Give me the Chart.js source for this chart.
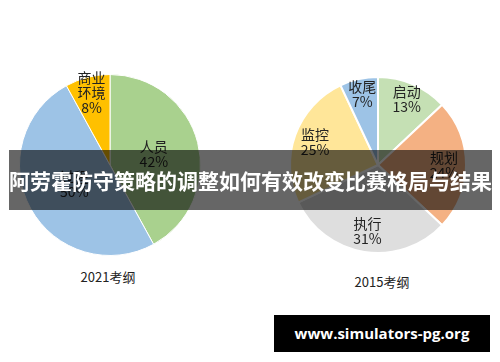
<!DOCTYPE html>
<html>
<head>
<meta charset="utf-8">
<script src="https://cdn.jsdelivr.net/npm/chart.js@4.4.1/dist/chart.umd.min.js"></script>
<style>
  body { margin: 0; width: 500px; height: 362px; background: #fff; position: relative; overflow: hidden; font-family: "Noto Sans CJK SC", sans-serif; }
  .box { position: absolute; }
  .cap { position: absolute; font-size: 13px; line-height: 18px; color: #222; text-align: center; width: 120px; }
  #banner { position: absolute; left: 9px; top: 150px; width: 483px; height: 60px; background: rgba(0,0,0,0.6);
    color: #fff; font-weight: bold; font-size: 21px; line-height: 60px; text-align: center; white-space: nowrap; }
  #mark { position: absolute; left: 274px; top: 315px; width: 216px; height: 37px; background: #000;
    color: #fff; font-family: "Open Sans", "DejaVu Sans", sans-serif; font-weight: bold; font-size: 15px; line-height: 37px; text-align: center; }
</style>
</head>
<body>
<div class="box" style="left:9px;top:64px;width:202px;height:202px"><canvas id="pie2021"></canvas></div>
<div class="box" style="left:279px;top:66px;width:198px;height:198px"><canvas id="pie2015"></canvas></div>
<div class="cap" style="left:48px;top:268px">2021考纲</div>
<div class="cap" style="left:322px;top:273px">2015考纲</div>
<div id="banner">阿劳霍防守策略的调整如何有效改变比赛格局与结果</div>
<div id="mark">www.simulators-pg.org</div>
<script>
// 2021考纲
const labels2021 = [['人员'], ['过程'], ['商业', '环境']];
const values2021 = [42, 50, 8];
const colors2021 = ['#a9d18e', '#9dc3e6', '#ffc000'];

// 2015考纲
const labels2015 = [['启动'], ['规划'], ['执行'], ['监控'], ['收尾']];
const values2015 = [13, 24, 31, 25, 7];
const colors2015 = ['#c5e0b4', '#f4b183', '#dedede', '#ffe699', '#9dc3e6'];

// 标签放在扇形里，按半径比例
const sliceLabels = {
  id: 'sliceLabels',
  afterDatasetsDraw(chart, args, opts) {
    const ctx = chart.ctx;
    const meta = chart.getDatasetMeta(0);
    const vals = chart.data.datasets[0].data;
    const names = chart.data.labels;
    ctx.save();
    ctx.fillStyle = '#222';
    ctx.font = '14px "Noto Sans CJK SC", sans-serif';
    ctx.textAlign = 'center';
    ctx.textBaseline = 'middle';
    meta.data.forEach((arc, i) => {
      const p = arc.getProps(['x', 'y', 'startAngle', 'endAngle', 'outerRadius'], true);
      const mid = (p.startAngle + p.endAngle) / 2;
      const r = p.outerRadius * opts.radius[i];
      const cx = p.x + Math.cos(mid) * r;
      const cy = p.y + Math.sin(mid) * r;
      const lines = names[i].concat([vals[i] + '%']);
      const lh = 15;
      lines.forEach((t, k) => {
        ctx.fillText(t, cx, cy + (k - (lines.length - 1) / 2) * lh);
      });
    });
    ctx.restore();
  }
};

function makePie(id, labels, values, colors, border, radius) {
  return new Chart(document.getElementById(id), {
    type: 'pie',
    data: {
      labels: labels,
      datasets: [{
        data: values,
        backgroundColor: colors,
        borderColor: '#fff',
        borderWidth: border
      }]
    },
    options: {
      responsive: true,
      maintainAspectRatio: false,
      animation: false,
      layout: { padding: 10 },
      plugins: {
        legend: { display: false },
        tooltip: { enabled: false },
        sliceLabels: { radius: radius }
      }
    },
    plugins: [sliceLabels]
  });
}

makePie('pie2021', labels2021, values2021, colors2021, 1, [0.5, 0.45, 0.82]);
makePie('pie2015', labels2015, values2015, colors2015, 2, [0.82, 0.75, 0.76, 0.76, 0.82]);
</script>
</body>
</html>
